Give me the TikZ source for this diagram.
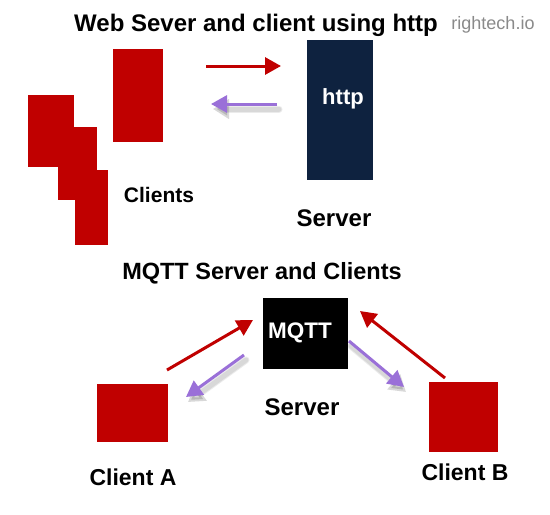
\documentclass[tikz,border=0pt]{standalone}
\usepackage{fontspec}
\setmainfont{Liberation Sans}
\usepackage{tikz}
\usetikzlibrary{arrows.meta,calc}

\definecolor{boxred}{HTML}{C00000}
\definecolor{srvnavy}{HTML}{0E223F}
\definecolor{msgpurple}{HTML}{9A70D8}
\definecolor{markgray}{HTML}{8A8A8A}

\tikzset{
  box/.style={inner sep=0pt, outer sep=0pt},
  lbl/.style={font=\fontsize{23}{26}\selectfont\bfseries, inner sep=0pt},
  reqarrow/.style={draw=boxred, line width=3pt, -{Triangle[length=16pt,width=17pt]}},
  resarrow/.style={draw=msgpurple, line width=3pt, -{Triangle[length=16pt,width=17pt]}},
  shadowarrow/.style={draw=black, opacity=0.08, line width=#1, line cap=round,
    -{Triangle[length=16pt,width=19pt]}},
  shadowarrow/.default=5pt
}

\begin{document}
\begin{tikzpicture}[x=1pt,y=-1pt]
\useasboundingbox[fill=white] (0,0) rectangle (550,515);

% titles
\node[lbl, font=\fontsize{24}{28}\selectfont\bfseries] (webtitle) at (256,25) {Web Sever and client using http};
\node[font=\fontsize{18}{20}\selectfont, text=markgray, inner sep=0pt] (brand) at (493,25) {rightech.io};

% web clients
\node[box, fill=boxred, minimum width=46pt, minimum height=72pt] (wc1) at (51,131) {};
\node[box, fill=boxred, minimum width=39pt, minimum height=73pt] (wc2) at (77.5,163.5) {};
\node[box, fill=boxred, minimum width=33pt, minimum height=75pt] (wc3) at (91.5,207.5) {};
\node[box, fill=boxred, minimum width=50pt, minimum height=93pt] (wc0) at (138,95.5) {};
\node[lbl, font=\fontsize{21}{24}\selectfont\bfseries] (clientslbl) at (159,195) {Clients};

% web server
\node[box, fill=srvnavy, minimum width=66pt, minimum height=140pt] (websrv) at (340,110) {};
\node[lbl, text=white, font=\fontsize{22}{24}\selectfont\bfseries] (httplbl) at (343,99) {http};
\node[lbl, font=\fontsize{24}{26}\selectfont\bfseries] (websrvlbl) at (334,218) {Server};

% request and response
\coordinate (req1) at (206,66);
\coordinate (req2) at (281,66);
\coordinate (res1) at (277,104);
\coordinate (res2) at (211,104);
\draw[reqarrow] (req1) -- (req2);
\draw[shadowarrow=7pt] ([shift={(2,5)}]res1) -- ([shift={(2,5)}]res2);
\draw[shadowarrow] ([shift={(2,5)}]res1) -- ([shift={(2,5)}]res2);
\draw[resarrow] (res1) -- (res2);

% mqtt part
\node[lbl, font=\fontsize{23.5}{26}\selectfont\bfseries] (mqtttitle) at (262,273) {MQTT Server and Clients};
\node[box, fill=black, minimum width=85pt, minimum height=71pt] (broker) at (305.5,333.5) {};
\node[lbl, text=white, font=\fontsize{22.5}{24}\selectfont\bfseries] (mqttlbl) at (300,333) {MQTT};
\node[lbl, font=\fontsize{24}{26}\selectfont\bfseries] (brokerlbl) at (302,407) {Server};

\node[box, fill=boxred, minimum width=71pt, minimum height=58pt] (cla) at (132.5,413) {};
\node[lbl] (clalbl) at (133,477) {Client A};
\node[box, fill=boxred, minimum width=69pt, minimum height=70pt] (clb) at (463.5,417) {};
\node[lbl] (clblbl) at (465,472) {Client B};

% publish / deliver arrows
\coordinate (pa1) at (167,370);
\coordinate (pa2) at (253,320);
\coordinate (da1) at (244,355);
\coordinate (da2) at (186,397);
\coordinate (db1) at (349,341);
\coordinate (db2) at (404,387);
\coordinate (pb1) at (445,378);
\coordinate (pb2) at (360,311);
\draw[reqarrow] (pa1) -- (pa2);
\draw[reqarrow] (pb1) -- (pb2);
\draw[shadowarrow=7pt] ([shift={(2,5)}]da1) -- ([shift={(2,5)}]da2);
\draw[shadowarrow] ([shift={(2,5)}]da1) -- ([shift={(2,5)}]da2);
\draw[resarrow] (da1) -- (da2);
\draw[shadowarrow=7pt] ([shift={(2,5)}]db1) -- ([shift={(2,5)}]db2);
\draw[shadowarrow] ([shift={(2,5)}]db1) -- ([shift={(2,5)}]db2);
\draw[resarrow] (db1) -- (db2);
\end{tikzpicture}
\end{document}
